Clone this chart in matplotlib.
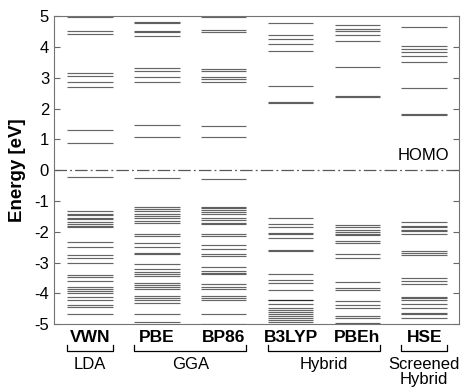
import matplotlib.pyplot as plt
import numpy as np
from matplotlib.transforms import blended_transform_factory

plt.rcParams['font.family'] = ['Liberation Sans', 'DejaVu Sans']

# energy levels (eV)
functionals = ['VWN', 'PBE', 'BP86', 'B3LYP', 'PBEh', 'HSE']
groups = ['LDA', 'GGA', 'Hybrid', 'Screened\nHybrid']
group_members = [[0], [1, 2], [3, 4], [5]]

vwn = [4.98, 4.52, 4.42, 3.15, 3.06, 2.87, 2.71, 1.29, 0.89, -0.21,
       -1.34, -1.41, -1.46, -1.54, -1.59, -1.68, -1.75, -1.82, -1.86,
       -2.33, -2.48, -2.76, -2.84, -3.0, -3.41, -3.48, -3.6, -3.78,
       -3.85, -3.93, -3.99, -4.12, -4.2, -4.37, -4.45, -4.67]
pbe = [4.81, 4.76, 4.53, 4.49, 4.35, 3.31, 3.22, 3.02, 2.85, 1.45, 1.07, -0.25,
       -1.19, -1.26, -1.34, -1.43, -1.48, -1.56, -1.64, -1.70, -2.06, -2.13,
       -2.38, -2.51, -2.68, -2.73, -3.04, -3.22, -3.30, -3.36, -3.44, -3.66,
       -3.73, -3.79, -3.87, -4.07, -4.14, -4.20, -4.31, -4.68, -4.92]
bp86 = [4.98, 4.54, 4.49, 3.28, 3.22, 3.02, 2.97, 2.85, 1.44, 1.08, -0.29,
        -1.19, -1.24, -1.30, -1.37, -1.43, -1.56, -1.62, -1.70, -1.75, -2.08,
        -2.14, -2.43, -2.57, -2.73, -2.79, -3.14, -3.27, -3.34, -3.38, -3.71,
        -3.78, -3.87, -4.07, -4.14, -4.20, -4.68, -4.99]
b3lyp = [4.76, 4.40, 4.27, 4.08, 3.87, 2.74, 2.21, 2.19,
         -1.54, -1.75, -1.83, -2.03, -2.08, -2.19, -2.59, -2.64, -3.38, -3.58,
         -3.65, -3.90, -4.20, -4.23, -4.36, -4.49, -4.55, -4.61, -4.68, -4.74,
         -4.81, -4.88, -4.93]
pbeh = [4.71, 4.57, 4.50, 4.39, 4.18, 3.36, 2.39, 2.37,
        -1.79, -1.86, -1.95, -2.0, -2.08, -2.11, -2.30, -2.35, -2.73, -2.86,
        -3.62, -3.84, -3.90, -4.25, -4.38, -4.47, -4.74, -4.81, -4.96, -4.99]
hse = [4.65, 4.02, 3.92, 3.85, 3.72, 3.52, 2.68, 1.81, 1.80,
       -1.67, -1.81, -1.86, -1.95, -1.99, -2.08, -2.62, -2.68, -2.75, -3.49,
       -3.60, -3.69, -4.12, -4.16, -4.23, -4.36, -4.49, -4.63, -4.68, -4.79]
levels = [vwn, pbe, bp86, b3lyp, pbeh, hse]

fig = plt.figure(figsize=(4.67, 3.92), dpi=100)
ax = fig.add_axes([0.1156, 0.173, 0.867, 0.786])

w = 0.34
x = np.arange(1, len(functionals) + 1)
for xi, lv in zip(x, levels):
    ax.hlines(lv, xi - w, xi + w, colors='black', alpha=0.6, lw=0.85)

# HOMO reference line
ax.axhline(0, color='0.35', lw=0.9, dashes=(10, 2.5, 1.5, 2.5))
ax.text(6.37, 0.22, 'HOMO', ha='right', va='bottom', fontsize=12)

ax.set_xlim(0.46, 6.52)
ax.set_ylim(-5, 5)
ax.set_yticks(np.arange(-5, 6, 1))
ax.set_yticklabels([str(v) for v in range(-5, 6)])
ax.set_xticks(x)
ax.set_xticklabels(functionals, fontweight='bold', fontsize=12.5)
ax.tick_params(axis='x', length=0, pad=4)
ax.tick_params(axis='y', direction='in', length=4, right=True, labelsize=12,
               color='0.4')
ax.set_ylabel('Energy [eV]', fontweight='bold', fontsize=13.5, labelpad=6)
for s in ax.spines.values():
    s.set_color('0.45')

# group brackets under the functional names
trans = blended_transform_factory(ax.transData, ax.transAxes)
for name, members in zip(groups, group_members):
    x0 = x[members[0]] - w
    x1 = x[members[-1]] + w
    ax.plot([x0, x0, x1, x1], [-0.068, -0.086, -0.086, -0.068], color='black',
            lw=0.9, transform=trans, clip_on=False)
    ax.text((x0 + x1) / 2, -0.105, name, ha='center', va='top', fontsize=12,
            linespacing=1.0, transform=trans)

plt.savefig('out.png', dpi=100)
